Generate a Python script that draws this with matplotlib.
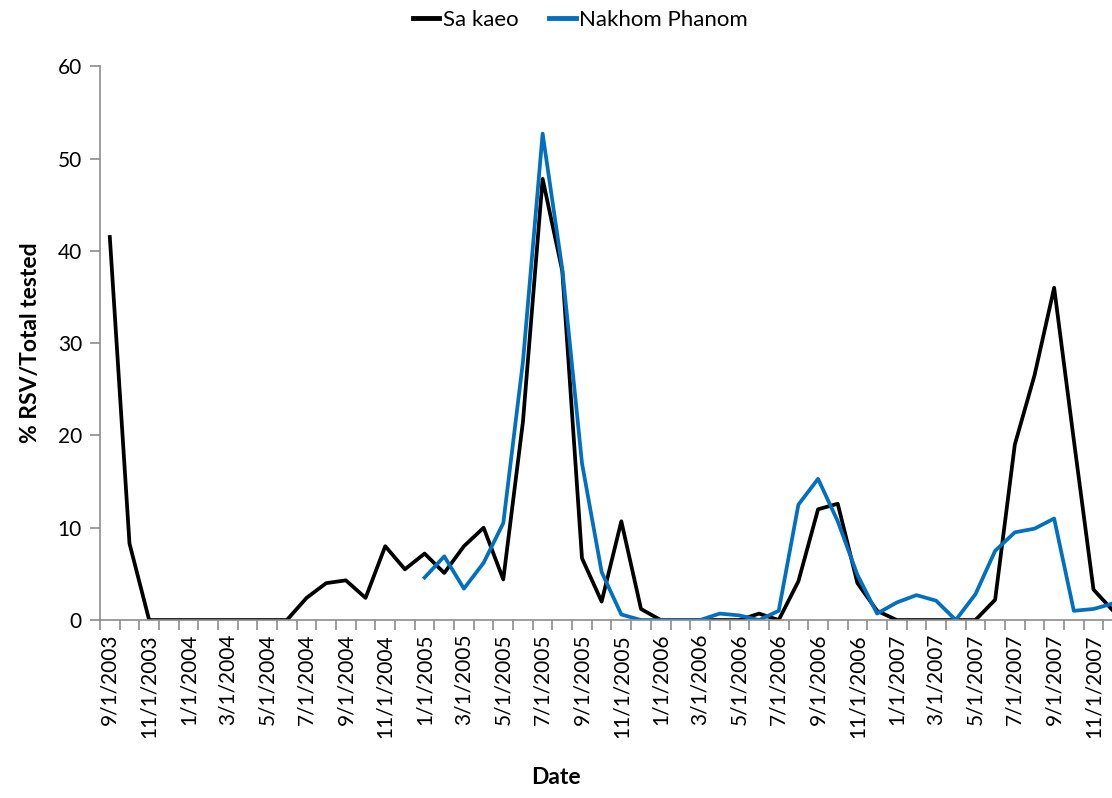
import numpy as np
import pandas as pd
from matplotlib import pyplot as plt
from matplotlib.lines import Line2D

plt.rcParams['font.family'] = ['Lato', 'DejaVu Sans']

# monthly categories, 9/1/2003 .. 12/1/2007
months = pd.date_range("2003-09-01", "2007-12-01", freq="MS")
month_labels = [f"{d.month}/1/{d.year}" for d in months]

sa_kaeo = [41.5, 8.3, 0, 0, 0, 0, 0, 0, 0, 0,
           2.4, 4.0, 4.3, 2.4, 8.0, 5.5, 7.2, 5.1, 8.0, 10.0,
           4.4, 21.5, 47.8, 37.8, 6.7, 2.0, 10.7, 1.2, 0, 0,
           0, 0, 0, 0.7, 0, 4.2, 12.0, 12.6, 4.0, 1.0,
           0, 0, 0, 0, 0, 2.2, 19.0, 26.5, 36.0, 19.5,
           3.3, 1.0]

nakhom_phanom = [np.nan] * 16 + [
    4.6, 6.9, 3.4, 6.2,
    10.5, 28.0, 52.7, 38.0, 17.0, 5.2, 0.6, 0, 0, 0,
    0, 0.7, 0.5, 0, 1.0, 12.5, 15.3, 10.7, 4.9, 0.7,
    1.9, 2.7, 2.1, 0, 2.8, 7.5, 9.5, 9.9, 11.0, 1.0,
    1.2, 1.8]

x = np.arange(len(months))
axis_grey = "#8c8c8c"
blue = "#0070C0"

fig = plt.figure(figsize=(11.12, 7.98), dpi=100)
# right edge of the plot runs a bit past the picture, as in the source
ax = fig.add_axes([0.0899, 0.223, 0.920, 0.694])

ax.plot(x, sa_kaeo, color="black", linewidth=2.7)
ax.plot(x, nakhom_phanom, color=blue, linewidth=2.7)

ax.set_xlim(-0.5, len(months) - 0.5)
ax.set_ylim(0, 60)
ax.set_yticks(range(0, 61, 10))

ax.set_xticks(x[::2])
ax.set_xticklabels(month_labels[::2], rotation=90, fontsize=15)
ax.set_xticks(np.arange(-0.5, len(months), 1), minor=True)
ax.tick_params(axis="x", which="major", length=0, pad=10)
ax.tick_params(axis="x", which="minor", length=7, color=axis_grey, width=1.2)
ax.tick_params(axis="y", labelsize=15, length=7, color=axis_grey, width=1.2, pad=6)

for side in ("top", "right"):
    ax.spines[side].set_visible(False)
for side in ("left", "bottom"):
    ax.spines[side].set_color(axis_grey)
    ax.spines[side].set_linewidth(1.2)

ax.set_ylabel("% RSV/Total tested", fontsize=16.5, fontweight="bold", labelpad=12)
fig.text(0.5, 0.012, "Date", ha="center", va="bottom", fontsize=16.5, fontweight="bold")

handles = [Line2D([], [], color="black", linewidth=3.5),
           Line2D([], [], color=blue, linewidth=3.5)]
fig.legend(handles, ["Sa kaeo", "Nakhom Phanom"], loc="center", bbox_to_anchor=(0.522, 0.975),
           ncol=2, frameon=False, fontsize=16, handlelength=1.2, handletextpad=0.15,
           columnspacing=1.4)

fig.savefig("out.png", dpi=100)
